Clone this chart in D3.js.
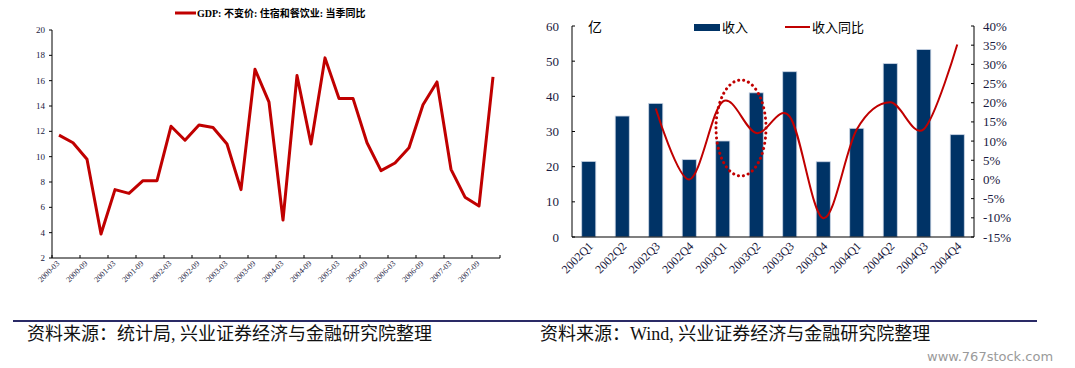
<!DOCTYPE html>
<html>
<head>
<meta charset="utf-8">
<script src="https://d3js.org/d3.v7.min.js"></script>
<style>
body { margin: 0; background: #fff; }
svg { display: block; }
</style>
</head>
<body>
<svg id="chart" width="1075" height="368"></svg>
<script>
// left chart: GDP accommodation & catering, quarterly yoy
var gdpDates = ["2000-03","2000-06","2000-09","2000-12","2001-03","2001-06","2001-09","2001-12",
	"2002-03","2002-06","2002-09","2002-12","2003-03","2003-06","2003-09","2003-12",
	"2004-03","2004-06","2004-09","2004-12","2005-03","2005-06","2005-09","2005-12",
	"2006-03","2006-06","2006-09","2006-12","2007-03","2007-06","2007-09","2007-12"];
var gdpValues = [11.7, 11.1, 9.8, 3.9, 7.4, 7.1, 8.1, 8.1,
	12.4, 11.3, 12.5, 12.3, 11.0, 7.4, 16.9, 14.3,
	5.0, 16.4, 11.0, 17.8, 14.6, 14.6, 11.1, 8.9,
	9.5, 10.7, 14.1, 15.9, 9.0, 6.8, 6.1, 16.3];
var gdpTicks = [2, 4, 6, 8, 10, 12, 14, 16, 18, 20];

// right chart: revenue (亿) and yoy growth
var quarters = ["2002Q1","2002Q2","2002Q3","2002Q4","2003Q1","2003Q2",
	"2003Q3","2003Q4","2004Q1","2004Q2","2004Q3","2004Q4"];
var revenue = [21.5, 34.4, 38.0, 22.0, 27.3, 41.0, 47.0, 21.4, 30.9, 49.3, 53.3, 29.1];
var revenueYoy = [null, null, 18.5, 0.0, 20.3, 12.1, 16.4, -10.1, 13.0, 20.1, 13.1, 35.2];
var revTicks = [0, 10, 20, 30, 40, 50, 60];
var yoyTicks = [-15, -10, -5, 0, 5, 10, 15, 20, 25, 30, 35, 40];

var serif = "'Liberation Serif','Times New Roman',serif";
var cjk = "'Liberation Serif','Noto Sans CJK SC',sans-serif";
var red = "#c00000";
var navy = "#003366";

var svg = d3.select("#chart");

// ---------- left chart ----------
var lx = d3.scaleBand().domain(gdpDates).range([52, 500]);
var ly = d3.scaleLinear().domain([2, 20]).range([258, 30]);
var left = svg.append("g");

left.append("line").attr("x1", 52).attr("x2", 52).attr("y1", 30).attr("y2", 258)
	.attr("stroke", "#000").attr("stroke-width", 1);
left.append("line").attr("x1", 52).attr("x2", 500).attr("y1", 258).attr("y2", 258)
	.attr("stroke", "#000").attr("stroke-width", 1);

gdpTicks.forEach(function(t) {
	left.append("line").attr("x1", 49).attr("x2", 52).attr("y1", ly(t)).attr("y2", ly(t))
		.attr("stroke", "#000");
	left.append("text").attr("x", 45).attr("y", ly(t)).attr("dy", "0.35em")
		.attr("text-anchor", "end").attr("font-size", 9).attr("font-family", serif)
		.attr("fill", "#1a1a40").text(t);
});

// ticks every half year, on category boundaries
for (var i = 0; i <= gdpDates.length; i += 2) {
	var tx = 52 + i * lx.bandwidth();
	left.append("line").attr("x1", tx).attr("x2", tx).attr("y1", 255).attr("y2", 258)
		.attr("stroke", "#000");
}
gdpDates.forEach(function(d, i) {
	if (i % 2) return;
	var cx = lx(d) + lx.bandwidth() / 2;
	left.append("text")
		.attr("transform", "translate(" + (cx + 1) + ",264) rotate(-45)")
		.attr("text-anchor", "end").attr("font-size", 8).attr("font-family", serif)
		.attr("fill", "#1a1a40").text(d);
});

var gdpLine = d3.line()
	.x(function(d, i) { return lx(gdpDates[i]) + lx.bandwidth() / 2; })
	.y(function(d) { return ly(d); });
left.append("path").datum(gdpValues).attr("d", gdpLine)
	.attr("fill", "none").attr("stroke", red).attr("stroke-width", 3)
	.attr("stroke-linejoin", "round");

left.append("line").attr("x1", 175).attr("x2", 196).attr("y1", 13).attr("y2", 13)
	.attr("stroke", red).attr("stroke-width", 3);
left.append("text").attr("x", 197).attr("y", 13).attr("dy", "0.35em")
	.attr("font-size", 10).attr("font-weight", "bold").attr("font-family", cjk)
	.text("GDP: 不变价: 住宿和餐饮业: 当季同比");

// ---------- right chart ----------
var rx = d3.scaleBand().domain(quarters).range([572, 974]);
var ry = d3.scaleLinear().domain([0, 60]).range([237, 26]);
var ry2 = d3.scaleLinear().domain([-15, 40]).range([237, 26]);
var right = svg.append("g");

var bw = rx.bandwidth() * 0.42;
right.selectAll("rect.bar").data(revenue).enter().append("rect").attr("class", "bar")
	.attr("x", function(d, i) { return rx(quarters[i]) + (rx.bandwidth() - bw) / 2; })
	.attr("y", function(d) { return ry(d); })
	.attr("width", bw)
	.attr("height", function(d) { return ry(0) - ry(d); })
	.attr("fill", navy).attr("stroke", "#c9d4e4").attr("stroke-width", 0.8);

right.append("line").attr("x1", 572).attr("x2", 572).attr("y1", 26).attr("y2", 237)
	.attr("stroke", "#000");
right.append("line").attr("x1", 974).attr("x2", 974).attr("y1", 26).attr("y2", 237)
	.attr("stroke", "#000");
right.append("line").attr("x1", 572).attr("x2", 974).attr("y1", 237).attr("y2", 237)
	.attr("stroke", "#000").attr("stroke-width", 1.2);

revTicks.forEach(function(t) {
	right.append("line").attr("x1", 572).attr("x2", 575).attr("y1", ry(t)).attr("y2", ry(t))
		.attr("stroke", "#000");
	right.append("text").attr("x", 559).attr("y", ry(t)).attr("dy", "0.35em")
		.attr("text-anchor", "end").attr("font-size", 13).attr("font-family", serif)
		.attr("fill", "#1a1a40").text(t);
});
yoyTicks.forEach(function(t) {
	right.append("line").attr("x1", 971).attr("x2", 974).attr("y1", ry2(t)).attr("y2", ry2(t))
		.attr("stroke", "#000");
	right.append("text").attr("x", 983).attr("y", ry2(t)).attr("dy", "0.35em")
		.attr("font-size", 13).attr("font-family", serif)
		.attr("fill", "#1a1a40").text(t + "%");
});

quarters.forEach(function(q) {
	var cx = rx(q) + rx.bandwidth() / 2;
	right.append("text")
		.attr("transform", "translate(" + (cx + 5) + ",247) rotate(-45)")
		.attr("text-anchor", "end").attr("font-size", 12).attr("font-family", serif)
		.attr("fill", "#1a1a40").text(q);
});

var yoyLine = d3.line()
	.defined(function(d) { return d !== null; })
	.curve(d3.curveCatmullRom.alpha(0))
	.x(function(d, i) { return rx(quarters[i]) + rx.bandwidth() / 2; })
	.y(function(d) { return ry2(d); });
right.append("path").datum(revenueYoy).attr("d", yoyLine)
	.attr("fill", "none").attr("stroke", red).attr("stroke-width", 2);

// dotted highlight ellipse round 2003Q1-Q2
right.append("ellipse").attr("cx", 741).attr("cy", 128).attr("rx", 25).attr("ry", 48)
	.attr("fill", "none").attr("stroke", red).attr("stroke-width", 3)
	.attr("stroke-dasharray", "0.1 5").attr("stroke-linecap", "round");

right.append("text").attr("x", 588).attr("y", 27).attr("dy", "0.35em")
	.attr("font-size", 14).attr("font-family", cjk).text("亿");

right.append("rect").attr("x", 694).attr("y", 24).attr("width", 26).attr("height", 7)
	.attr("fill", navy);
right.append("text").attr("x", 722).attr("y", 27).attr("dy", "0.35em")
	.attr("font-size", 13).attr("font-family", cjk).text("收入");
right.append("line").attr("x1", 785).attr("x2", 810).attr("y1", 27).attr("y2", 27)
	.attr("stroke", red).attr("stroke-width", 2);
right.append("text").attr("x", 812).attr("y", 27).attr("dy", "0.35em")
	.attr("font-size", 13).attr("font-family", cjk).text("收入同比");

// ---------- footer ----------
svg.append("line").attr("x1", 13).attr("x2", 1037).attr("y1", 321).attr("y2", 321)
	.attr("stroke", "#2a2a66").attr("stroke-width", 2);
svg.append("text").attr("x", 27).attr("y", 340)
	.attr("font-size", 18).attr("font-family", cjk).attr("fill", "#111")
	.text("资料来源：统计局, 兴业证券经济与金融研究院整理");
svg.append("text").attr("x", 540).attr("y", 340)
	.attr("font-size", 18).attr("font-family", cjk).attr("fill", "#111")
	.text("资料来源：Wind, 兴业证券经济与金融研究院整理");
svg.append("text").attr("x", 927).attr("y", 361)
	.attr("font-size", 13).attr("font-family", "'DejaVu Sans',sans-serif").attr("fill", "#9a9a9a")
	.text("www.767stock.com");
</script>
</body>
</html>
